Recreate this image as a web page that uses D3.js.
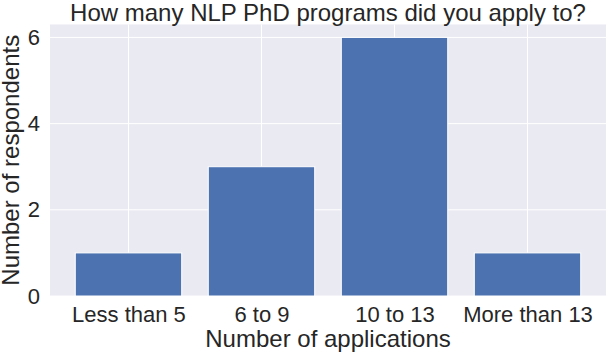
<!DOCTYPE html>
<html>
<head>
<meta charset="utf-8">
<script src="https://cdn.jsdelivr.net/npm/d3@7"></script>
<style>
  body { margin: 0; background: #fff; }
  text { font-family: "Liberation Sans", Arial, sans-serif; fill: #262626; }
</style>
</head>
<body>
<div id="chart"></div>
<script>
var categories = ["Less than 5", "6 to 9", "10 to 13", "More than 13"];
var counts = [1, 3, 6, 1];
var yTicks = [0, 2, 4, 6];

var width = 606, height = 352;
var margin = {top: 24.5, right: 0, bottom: 56, left: 50};
var c_width = width - margin.left - margin.right;
var c_height = height - margin.top - margin.bottom;

var svg = d3.select("#chart").append("svg")
    .attr("width", width)
    .attr("height", height);

var g = svg.append("g")
    .attr("transform", "translate(" + margin.left + "," + margin.top + ")");

// matplotlib-like limits: bars of width 0.8 at 0..n-1, 5% margin
var n = categories.length;
var span = (n - 1) + 0.8;
var x = d3.scaleLinear()
    .domain([-0.4 - span * 0.05, n - 1 + 0.4 + span * 0.05])
    .range([0, c_width]);
var y = d3.scaleLinear()
    .domain([0, d3.max(counts) * 1.05])
    .range([c_height, 0]);

g.append("rect")
    .attr("width", c_width)
    .attr("height", c_height)
    .attr("fill", "#EAEAF2");

// grid
g.selectAll(".hgrid").data(yTicks).enter().append("line")
    .attr("x1", 0).attr("x2", c_width)
    .attr("y1", function(d) { return y(d); })
    .attr("y2", function(d) { return y(d); })
    .attr("stroke", "#fff").attr("stroke-width", 1);

g.selectAll(".vgrid").data(categories).enter().append("line")
    .attr("x1", function(d, i) { return x(i); })
    .attr("x2", function(d, i) { return x(i); })
    .attr("y1", 0).attr("y2", c_height)
    .attr("stroke", "#fff").attr("stroke-width", 1);

// bars
var bw = x(0.8) - x(0);
g.selectAll(".bar").data(counts).enter().append("rect")
    .attr("x", function(d, i) { return x(i - 0.4); })
    .attr("y", function(d) { return y(d); })
    .attr("width", bw)
    .attr("height", function(d) { return y(0) - y(d); })
    .attr("fill", "#4C72B0")
    .attr("stroke", "#fff")
    .attr("stroke-width", 1);

// axes
var xAxis = g.append("g")
    .attr("transform", "translate(0," + c_height + ")")
    .call(d3.axisBottom(x).tickValues(d3.range(n)).tickSize(0).tickPadding(10)
        .tickFormat(function(d) { return categories[d]; }));
xAxis.select(".domain").remove();
xAxis.selectAll("text").attr("font-size", 22).attr("fill", "#262626")
    .style("font-family", '"Liberation Sans", Arial, sans-serif');

var yAxis = g.append("g")
    .call(d3.axisLeft(y).tickValues(yTicks).tickSize(0).tickPadding(10)
        .tickFormat(d3.format("d")));
yAxis.select(".domain").remove();
yAxis.selectAll("text").attr("font-size", 22).attr("fill", "#262626")
    .style("font-family", '"Liberation Sans", Arial, sans-serif');

svg.append("text")
    .attr("x", margin.left + c_width / 2)
    .attr("y", 347)
    .attr("text-anchor", "middle")
    .attr("font-size", 24)
    .text("Number of applications");

svg.append("text")
    .attr("transform", "rotate(-90)")
    .attr("x", -(margin.top + c_height / 2))
    .attr("y", 18.5)
    .attr("text-anchor", "middle")
    .attr("font-size", 24)
    .text("Number of respondents");

svg.append("text")
    .attr("x", margin.left + c_width / 2)
    .attr("y", 21)
    .attr("text-anchor", "middle")
    .attr("font-size", 24)
    .text("How many NLP PhD programs did you apply to?");
</script>
</body>
</html>
